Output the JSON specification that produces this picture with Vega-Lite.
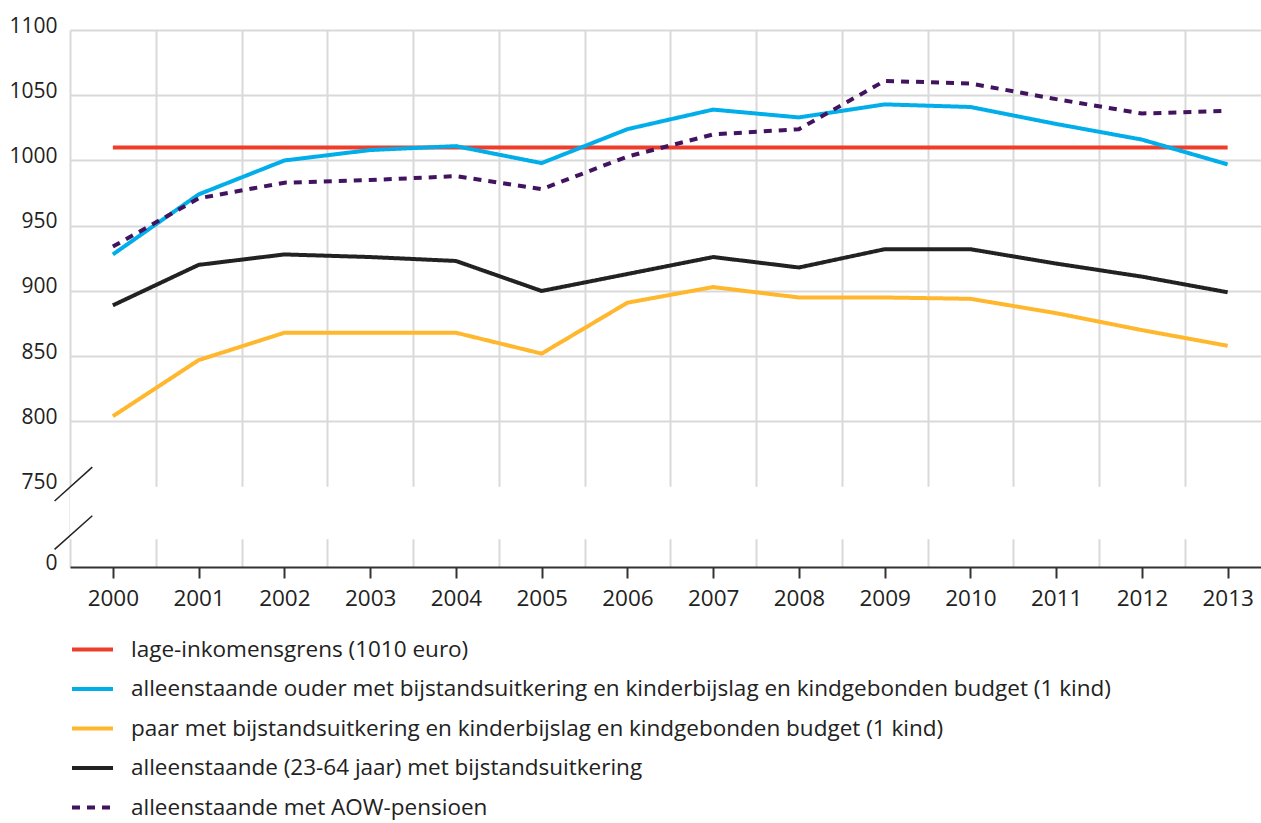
{
  "$schema": "https://vega.github.io/schema/vega-lite/v6.json",
  "width": 1191,
  "height": 537,
  "autosize": {"type": "none"},
  "padding": {"left": 70, "top": 30, "right": 0, "bottom": 256},
  "background": "white",
  "config": {
    "view": {"stroke": null},
    "font": "Open Sans",
    "legend": {
      "labelFont": "Open Sans",
      "labelFontSize": 22.5,
      "labelColor": "#222222",
      "symbolType": "stroke",
      "symbolSize": 1681,
      "symbolStrokeWidth": 4,
      "labelOffset": 16,
      "rowPadding": 5.5,
      "labelLimit": 1200,
      "padding": 0
    }
  },
  "datasets": {
    "reeksen": [
      {"jaar": 2000, "reeks": "lage-inkomensgrens (1010 euro)", "waarde": 1010},
      {"jaar": 2001, "reeks": "lage-inkomensgrens (1010 euro)", "waarde": 1010},
      {"jaar": 2002, "reeks": "lage-inkomensgrens (1010 euro)", "waarde": 1010},
      {"jaar": 2003, "reeks": "lage-inkomensgrens (1010 euro)", "waarde": 1010},
      {"jaar": 2004, "reeks": "lage-inkomensgrens (1010 euro)", "waarde": 1010},
      {"jaar": 2005, "reeks": "lage-inkomensgrens (1010 euro)", "waarde": 1010},
      {"jaar": 2006, "reeks": "lage-inkomensgrens (1010 euro)", "waarde": 1010},
      {"jaar": 2007, "reeks": "lage-inkomensgrens (1010 euro)", "waarde": 1010},
      {"jaar": 2008, "reeks": "lage-inkomensgrens (1010 euro)", "waarde": 1010},
      {"jaar": 2009, "reeks": "lage-inkomensgrens (1010 euro)", "waarde": 1010},
      {"jaar": 2010, "reeks": "lage-inkomensgrens (1010 euro)", "waarde": 1010},
      {"jaar": 2011, "reeks": "lage-inkomensgrens (1010 euro)", "waarde": 1010},
      {"jaar": 2012, "reeks": "lage-inkomensgrens (1010 euro)", "waarde": 1010},
      {"jaar": 2013, "reeks": "lage-inkomensgrens (1010 euro)", "waarde": 1010},
      {"jaar": 2000, "reeks": "alleenstaande ouder met bijstandsuitkering en kinderbijslag en kindgebonden budget (1 kind)", "waarde": 928},
      {"jaar": 2001, "reeks": "alleenstaande ouder met bijstandsuitkering en kinderbijslag en kindgebonden budget (1 kind)", "waarde": 974},
      {"jaar": 2002, "reeks": "alleenstaande ouder met bijstandsuitkering en kinderbijslag en kindgebonden budget (1 kind)", "waarde": 1000},
      {"jaar": 2003, "reeks": "alleenstaande ouder met bijstandsuitkering en kinderbijslag en kindgebonden budget (1 kind)", "waarde": 1008},
      {"jaar": 2004, "reeks": "alleenstaande ouder met bijstandsuitkering en kinderbijslag en kindgebonden budget (1 kind)", "waarde": 1011},
      {"jaar": 2005, "reeks": "alleenstaande ouder met bijstandsuitkering en kinderbijslag en kindgebonden budget (1 kind)", "waarde": 998},
      {"jaar": 2006, "reeks": "alleenstaande ouder met bijstandsuitkering en kinderbijslag en kindgebonden budget (1 kind)", "waarde": 1024},
      {"jaar": 2007, "reeks": "alleenstaande ouder met bijstandsuitkering en kinderbijslag en kindgebonden budget (1 kind)", "waarde": 1039},
      {"jaar": 2008, "reeks": "alleenstaande ouder met bijstandsuitkering en kinderbijslag en kindgebonden budget (1 kind)", "waarde": 1033},
      {"jaar": 2009, "reeks": "alleenstaande ouder met bijstandsuitkering en kinderbijslag en kindgebonden budget (1 kind)", "waarde": 1043},
      {"jaar": 2010, "reeks": "alleenstaande ouder met bijstandsuitkering en kinderbijslag en kindgebonden budget (1 kind)", "waarde": 1041},
      {"jaar": 2011, "reeks": "alleenstaande ouder met bijstandsuitkering en kinderbijslag en kindgebonden budget (1 kind)", "waarde": 1028},
      {"jaar": 2012, "reeks": "alleenstaande ouder met bijstandsuitkering en kinderbijslag en kindgebonden budget (1 kind)", "waarde": 1016},
      {"jaar": 2013, "reeks": "alleenstaande ouder met bijstandsuitkering en kinderbijslag en kindgebonden budget (1 kind)", "waarde": 997},
      {"jaar": 2000, "reeks": "paar met bijstandsuitkering en kinderbijslag en kindgebonden budget (1 kind)", "waarde": 804},
      {"jaar": 2001, "reeks": "paar met bijstandsuitkering en kinderbijslag en kindgebonden budget (1 kind)", "waarde": 847},
      {"jaar": 2002, "reeks": "paar met bijstandsuitkering en kinderbijslag en kindgebonden budget (1 kind)", "waarde": 868},
      {"jaar": 2003, "reeks": "paar met bijstandsuitkering en kinderbijslag en kindgebonden budget (1 kind)", "waarde": 868},
      {"jaar": 2004, "reeks": "paar met bijstandsuitkering en kinderbijslag en kindgebonden budget (1 kind)", "waarde": 868},
      {"jaar": 2005, "reeks": "paar met bijstandsuitkering en kinderbijslag en kindgebonden budget (1 kind)", "waarde": 852},
      {"jaar": 2006, "reeks": "paar met bijstandsuitkering en kinderbijslag en kindgebonden budget (1 kind)", "waarde": 891},
      {"jaar": 2007, "reeks": "paar met bijstandsuitkering en kinderbijslag en kindgebonden budget (1 kind)", "waarde": 903},
      {"jaar": 2008, "reeks": "paar met bijstandsuitkering en kinderbijslag en kindgebonden budget (1 kind)", "waarde": 895},
      {"jaar": 2009, "reeks": "paar met bijstandsuitkering en kinderbijslag en kindgebonden budget (1 kind)", "waarde": 895},
      {"jaar": 2010, "reeks": "paar met bijstandsuitkering en kinderbijslag en kindgebonden budget (1 kind)", "waarde": 894},
      {"jaar": 2011, "reeks": "paar met bijstandsuitkering en kinderbijslag en kindgebonden budget (1 kind)", "waarde": 883},
      {"jaar": 2012, "reeks": "paar met bijstandsuitkering en kinderbijslag en kindgebonden budget (1 kind)", "waarde": 870},
      {"jaar": 2013, "reeks": "paar met bijstandsuitkering en kinderbijslag en kindgebonden budget (1 kind)", "waarde": 858},
      {"jaar": 2000, "reeks": "alleenstaande (23-64 jaar) met bijstandsuitkering", "waarde": 889},
      {"jaar": 2001, "reeks": "alleenstaande (23-64 jaar) met bijstandsuitkering", "waarde": 920},
      {"jaar": 2002, "reeks": "alleenstaande (23-64 jaar) met bijstandsuitkering", "waarde": 928},
      {"jaar": 2003, "reeks": "alleenstaande (23-64 jaar) met bijstandsuitkering", "waarde": 926},
      {"jaar": 2004, "reeks": "alleenstaande (23-64 jaar) met bijstandsuitkering", "waarde": 923},
      {"jaar": 2005, "reeks": "alleenstaande (23-64 jaar) met bijstandsuitkering", "waarde": 900},
      {"jaar": 2006, "reeks": "alleenstaande (23-64 jaar) met bijstandsuitkering", "waarde": 913},
      {"jaar": 2007, "reeks": "alleenstaande (23-64 jaar) met bijstandsuitkering", "waarde": 926},
      {"jaar": 2008, "reeks": "alleenstaande (23-64 jaar) met bijstandsuitkering", "waarde": 918},
      {"jaar": 2009, "reeks": "alleenstaande (23-64 jaar) met bijstandsuitkering", "waarde": 932},
      {"jaar": 2010, "reeks": "alleenstaande (23-64 jaar) met bijstandsuitkering", "waarde": 932},
      {"jaar": 2011, "reeks": "alleenstaande (23-64 jaar) met bijstandsuitkering", "waarde": 921},
      {"jaar": 2012, "reeks": "alleenstaande (23-64 jaar) met bijstandsuitkering", "waarde": 911},
      {"jaar": 2013, "reeks": "alleenstaande (23-64 jaar) met bijstandsuitkering", "waarde": 899},
      {"jaar": 2000, "reeks": "alleenstaande met AOW-pensioen", "waarde": 934},
      {"jaar": 2001, "reeks": "alleenstaande met AOW-pensioen", "waarde": 971},
      {"jaar": 2002, "reeks": "alleenstaande met AOW-pensioen", "waarde": 983},
      {"jaar": 2003, "reeks": "alleenstaande met AOW-pensioen", "waarde": 985},
      {"jaar": 2004, "reeks": "alleenstaande met AOW-pensioen", "waarde": 988},
      {"jaar": 2005, "reeks": "alleenstaande met AOW-pensioen", "waarde": 978},
      {"jaar": 2006, "reeks": "alleenstaande met AOW-pensioen", "waarde": 1003},
      {"jaar": 2007, "reeks": "alleenstaande met AOW-pensioen", "waarde": 1020},
      {"jaar": 2008, "reeks": "alleenstaande met AOW-pensioen", "waarde": 1024},
      {"jaar": 2009, "reeks": "alleenstaande met AOW-pensioen", "waarde": 1061},
      {"jaar": 2010, "reeks": "alleenstaande met AOW-pensioen", "waarde": 1059},
      {"jaar": 2011, "reeks": "alleenstaande met AOW-pensioen", "waarde": 1047},
      {"jaar": 2012, "reeks": "alleenstaande met AOW-pensioen", "waarde": 1036},
      {"jaar": 2013, "reeks": "alleenstaande met AOW-pensioen", "waarde": 1038}
    ],
    "asbreuk": [
      {"jaar": 1999.32, "jaar2": 1999.76, "waarde": 616, "waarde2": 765},
      {"jaar": 1999.32, "jaar2": 1999.76, "waarde": 165, "waarde2": 479}
    ],
    "onderbreking": [
      {"waarde": 260, "waarde2": 750}
    ]
  },
  "layer": [
    {
      "data": {"name": "onderbreking"},
      "mark": {"type": "rect", "fill": "white", "stroke": null},
      "encoding": {
        "y": {"field": "waarde", "type": "quantitative", "scale": {"domain": [0, 750, 1100], "range": [537, 456.7, 0], "nice": false, "zero": false}},
        "y2": {"field": "waarde2"}
      }
    },
    {
      "data": {"name": "asbreuk"},
      "mark": {"type": "rule", "color": "#222222", "strokeWidth": 1.5},
      "encoding": {
        "x": {"field": "jaar", "type": "quantitative", "scale": {"domain": [1999.5, 2013.389], "nice": false, "zero": false}},
        "x2": {"field": "jaar2"},
        "y": {"field": "waarde", "type": "quantitative", "scale": {"domain": [0, 750, 1100], "range": [537, 456.7, 0], "nice": false, "zero": false}},
        "y2": {"field": "waarde2"}
      }
    },
    {
      "data": {"name": "reeksen"},
      "mark": {"type": "line", "strokeWidth": 4, "strokeCap": "butt"},
      "encoding": {
        "x": {
          "field": "jaar",
          "type": "quantitative",
          "scale": {"domain": [1999.5, 2013.389], "nice": false, "zero": false},
          "axis": {
            "title": null,
            "zindex": 0,
            "values": [1999.5, 2000, 2000.5, 2001, 2001.5, 2002, 2002.5, 2003, 2003.5, 2004, 2004.5, 2005, 2005.5, 2006, 2006.5, 2007, 2007.5, 2008, 2008.5, 2009, 2009.5, 2010, 2010.5, 2011, 2011.5, 2012, 2012.5, 2013],
            "labelExpr": "datum.value % 1 === 0 ? format(datum.value, 'd') : ''",
            "labelOverlap": false,
            "labelFlush": false,
            "labelFont": "Open Sans",
            "labelFontSize": 22.5,
            "labelColor": "#222222",
            "labelPadding": 9,
            "domain": true,
            "domainColor": "#333333",
            "domainWidth": 2,
            "ticks": true,
            "tickSize": 11,
            "tickWidth": 2,
            "tickColor": {"condition": {"test": "datum.value % 1 !== 0", "value": "transparent"}, "value": "#333333"},
            "grid": true,
            "gridWidth": 2,
            "gridColor": {"condition": {"test": "datum.value % 1 === 0", "value": "transparent"}, "value": "#d9d9d9"}
          }
        },
        "y": {
          "field": "waarde",
          "type": "quantitative",
          "scale": {"domain": [0, 750, 1100], "range": [537, 456.7, 0], "nice": false, "zero": false},
          "axis": {
            "title": null,
            "zindex": 0,
            "values": [0, 750, 800, 850, 900, 950, 1000, 1050, 1100],
            "format": "d",
            "domain": false,
            "ticks": false,
            "labelFont": "Open Sans",
            "labelFontSize": 21,
            "labelColor": "#222222",
            "labelPadding": 13,
            "labelOffset": -4,
            "labelOverlap": false,
            "grid": true,
            "gridWidth": 2,
            "gridColor": {"condition": {"test": "datum.value < 800", "value": "transparent"}, "value": "#d9d9d9"}
          }
        },
        "color": {
          "field": "reeks",
          "type": "nominal",
          "scale": {
            "domain": [
              "lage-inkomensgrens (1010 euro)",
              "alleenstaande ouder met bijstandsuitkering en kinderbijslag en kindgebonden budget (1 kind)",
              "paar met bijstandsuitkering en kinderbijslag en kindgebonden budget (1 kind)",
              "alleenstaande (23-64 jaar) met bijstandsuitkering",
              "alleenstaande met AOW-pensioen"
            ],
            "range": ["#ee3d2a", "#01aeea", "#ffb72e", "#222222", "#42145f"]
          },
          "legend": {"title": null, "orient": "none", "legendX": 0, "legendY": 597, "direction": "vertical"}
        },
        "strokeDash": {
          "field": "reeks",
          "type": "nominal",
          "scale": {
            "domain": [
              "lage-inkomensgrens (1010 euro)",
              "alleenstaande ouder met bijstandsuitkering en kinderbijslag en kindgebonden budget (1 kind)",
              "paar met bijstandsuitkering en kinderbijslag en kindgebonden budget (1 kind)",
              "alleenstaande (23-64 jaar) met bijstandsuitkering",
              "alleenstaande met AOW-pensioen"
            ],
            "range": [[1, 0], [1, 0], [1, 0], [1, 0], [8, 7]]
          },
          "legend": {"title": null, "orient": "none", "legendX": 0, "legendY": 597, "direction": "vertical"}
        }
      }
    }
  ]
}
